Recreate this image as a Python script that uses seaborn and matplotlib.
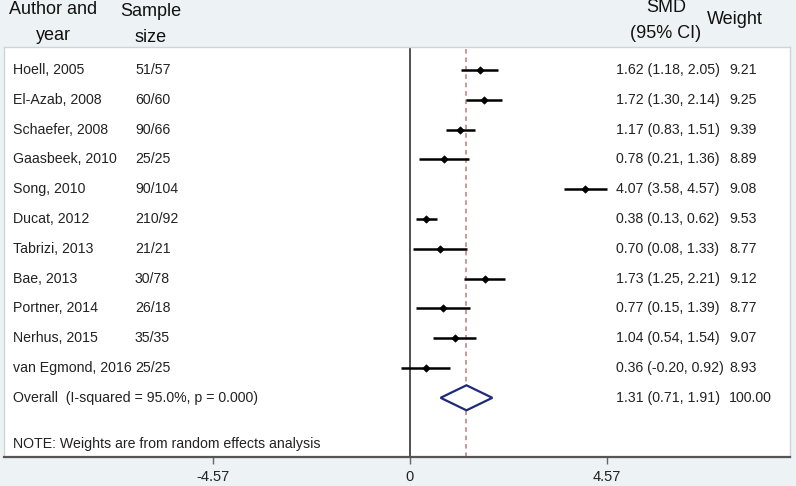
import matplotlib
matplotlib.use("Agg")
import matplotlib.pyplot as plt
import matplotlib.transforms as mtransforms
import seaborn as sns
import pandas as pd

studies = ["Hoell, 2005", "El-Azab, 2008", "Schaefer, 2008", "Gaasbeek, 2010",
           "Song, 2010", "Ducat, 2012", "Tabrizi, 2013", "Bae, 2013",
           "Portner, 2014", "Nerhus, 2015", "van Egmond, 2016"]
sample_sizes = ["51/57", "60/60", "90/66", "25/25", "90/104", "210/92",
                "21/21", "30/78", "26/18", "35/35", "25/25"]
smd = [1.62, 1.72, 1.17, 0.78, 4.07, 0.38, 0.70, 1.73, 0.77, 1.04, 0.36]
ci_low = [1.18, 1.30, 0.83, 0.21, 3.58, 0.13, 0.08, 1.25, 0.15, 0.54, -0.20]
ci_high = [2.05, 2.14, 1.51, 1.36, 4.57, 0.62, 1.33, 2.21, 1.39, 1.54, 0.92]
weights = [9.21, 9.25, 9.39, 8.89, 9.08, 9.53, 8.77, 9.12, 8.77, 9.07, 8.93]
overall_label = "Overall  (I-squared = 95.0%, p = 0.000)"
overall_est, overall_low, overall_high, overall_weight = 1.31, 0.71, 1.91, 100.00
note = "NOTE: Weights are from random effects analysis"
tick_values = [-4.57, 0, 4.57]
tick_labels = ["-4.57", "0", "4.57"]

df = pd.DataFrame({"study": studies, "n": sample_sizes, "smd": smd,
                   "lo": ci_low, "hi": ci_high, "w": weights})
df["row"] = range(len(df))
overall_row = len(df)
note_row = overall_row + 1.55

sns.set_theme(style="white")
plt.rcParams["font.family"] = ["Liberation Sans", "DejaVu Sans"]

W, H = 796, 486
bg = "#edf2f4"
fig = plt.figure(figsize=(W / 100, H / 100), dpi=100, facecolor=bg)
ax = fig.add_axes([4 / W, 29 / H, 786 / W, 410 / H])
ax.set_facecolor("white")

px_per_unit = 43.1
x0 = 410
ax.set_xlim((4 - x0) / px_per_unit, (790 - x0) / px_per_unit)
row0, row_h = 70, 29.8
ax.set_ylim((457 - row0) / row_h, (47 - row0) / row_h)

# reference lines
ax.axvline(0, color="#333333", lw=1.2, zorder=1)
ax.axvline(overall_est, color="#c07a7a", lw=1.1, ls=(0, (3, 2.5)), zorder=1)

# confidence intervals
ax.hlines(df["row"], df["lo"], df["hi"], color="black", lw=1.8, zorder=2)
sns.scatterplot(data=df, x="smd", y="row", ax=ax, color="black", marker="D",
                s=14, edgecolor="black", linewidth=0.5, zorder=3, legend=False)

# overall diamond
h = 0.42
ax.fill([overall_low, overall_est, overall_high, overall_est],
        [overall_row, overall_row - h, overall_row, overall_row + h],
        facecolor="white", edgecolor="#1f2a78", lw=1.6, zorder=3)

# axes styling
for side in ["left", "top", "right"]:
    ax.spines[side].set_color("#cfd4d7")
    ax.spines[side].set_linewidth(1.0)
ax.spines["bottom"].set_color("#555555")
ax.spines["bottom"].set_linewidth(1.6)
ax.set_xticks(tick_values)
ax.set_xticklabels(tick_labels, fontsize=10.5, color="#222222")
ax.tick_params(axis="x", direction="out", length=5, width=1, color="#666666",
               pad=4, bottom=True)
ax.set_yticks([])
ax.set_xlabel("")
ax.set_ylabel("")

# row texts
tr = mtransforms.blended_transform_factory(fig.transFigure, ax.transData)
fs = 10.2
txt_color = "#222222"
for _, r in df.iterrows():
    ax.text(13 / W, r["row"], r["study"], transform=tr, fontsize=fs,
            va="center", ha="left", color=txt_color)
    ax.text(135 / W, r["row"], r["n"], transform=tr, fontsize=fs,
            va="center", ha="left", color=txt_color)
    ax.text(616 / W, r["row"], f"{r['smd']:.2f} ({r['lo']:.2f}, {r['hi']:.2f})",
            transform=tr, fontsize=fs, va="center", ha="left", color=txt_color)
    ax.text(729 / W, r["row"], f"{r['w']:.2f}", transform=tr, fontsize=fs,
            va="center", ha="left", color=txt_color)

ax.text(13 / W, overall_row, overall_label, transform=tr, fontsize=fs,
        va="center", ha="left", color=txt_color)
ax.text(616 / W, overall_row,
        f"{overall_est:.2f} ({overall_low:.2f}, {overall_high:.2f})",
        transform=tr, fontsize=fs, va="center", ha="left", color=txt_color)
ax.text(729 / W, overall_row, f"{overall_weight:.2f}", transform=tr,
        fontsize=fs, va="center", ha="left", color=txt_color)
ax.text(13 / W, note_row, note, transform=tr, fontsize=fs,
        va="center", ha="left", color=txt_color)

# headers
hfs = 13
def ftext(x, y, s, ha="center"):
    fig.text(x / W, 1 - y / H, s, fontsize=hfs, ha=ha, va="center",
             color="#111111")

ftext(53, 9, "Author and")
ftext(53, 35, "year")
ftext(151, 12, "Sample")
ftext(151, 38, "size")
ftext(666, 8, "SMD")
ftext(666, 34, "(95% CI)")
ftext(735, 19, "Weight")

fig.savefig("out.png", dpi=100, facecolor=bg)
